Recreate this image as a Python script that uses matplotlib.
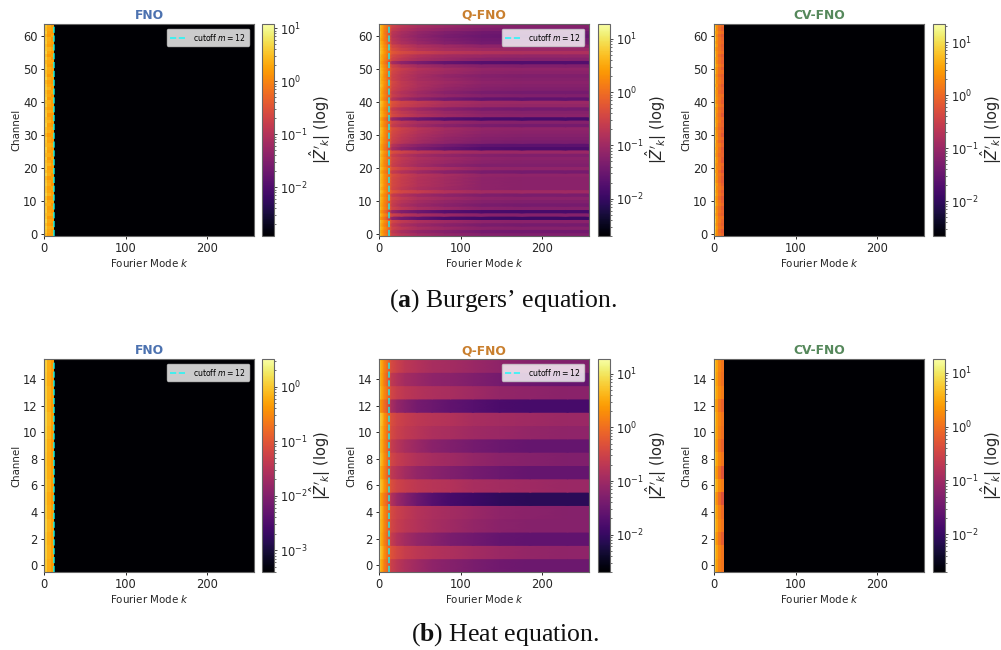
import numpy as np
import matplotlib
matplotlib.use('Agg')
import matplotlib.pyplot as plt
from matplotlib.colors import LogNorm

plt.rcParams['mathtext.fontset'] = 'dejavusans'

# all values are log10 |Z'_k|, first row = top channel
burgers_k = [0, 2, 5, 8, 12, 20, 35, 60, 100, 150, 200, 257]
heat_k = [0, 2, 5, 8, 12, 18, 26, 38, 55, 75, 100, 130, 165, 205, 257]
low_k = [0, 4, 8, 12, 257]
low_k_cv = [0, 2, 5, 8, 12, 257]
floor = -9

qfno_burgers = [
    [.80, .55, .25, .05, -.50, -.70, -.90, -1.05, -1.20, -1.25, -1.25],
    [.75, .50, .20, .00, -.60, -.80, -1.00, -1.15, -1.30, -1.35, -1.35],
    [.85, .50, .15, -.05, -.70, -.90, -1.10, -1.30, -1.45, -1.50, -1.50],
    [.80, .45, .20, -.05, -.75, -.95, -1.15, -1.35, -1.50, -1.55, -1.55],
    [.70, .40, .15, .00, -.70, -.90, -1.10, -1.30, -1.45, -1.50, -1.45],
    [.75, .50, .25, .00, -.65, -.85, -1.05, -1.25, -1.40, -1.45, -1.40],
    [.80, .55, .30, .10, -.45, -.65, -.85, -1.00, -1.15, -1.20, -1.20],
    [.85, .60, .35, .15, -.35, -.55, -.75, -.90, -1.00, -1.05, -1.05],
    [.90, .60, .40, .15, -.25, -.40, -.55, -.70, -.80, -.85, -.85],
    [.80, .50, .30, .10, -.40, -.60, -.80, -.95, -1.05, -1.10, -1.10],
    [.75, .50, .25, .05, -.50, -.70, -.90, -1.05, -1.20, -1.25, -1.25],
    [.70, .40, .15, -.10, -.90, -1.15, -1.35, -1.55, -1.70, -1.75, -1.75],
    [.80, .50, .25, .05, -.50, -.75, -.95, -1.10, -1.25, -1.30, -1.30],
    [.85, .55, .30, .10, -.40, -.60, -.80, -.95, -1.10, -1.15, -1.15],
    [.80, .60, .30, .10, -.45, -.65, -.85, -1.00, -1.15, -1.20, -1.20],
    [.75, .55, .25, .05, -.50, -.70, -.90, -1.10, -1.25, -1.30, -1.30],
    [.85, .50, .30, .05, -.50, -.70, -.90, -1.05, -1.20, -1.25, -1.25],
    [.80, .55, .35, .10, -.40, -.65, -.85, -1.00, -1.15, -1.20, -1.20],
    [.85, .60, .30, .10, -.45, -.65, -.85, -1.05, -1.20, -1.25, -1.25],
    [.75, .50, .25, .05, -.50, -.70, -.90, -1.10, -1.25, -1.30, -1.30],
    [.80, .45, .20, .00, -.60, -.80, -1.00, -1.20, -1.35, -1.40, -1.40],
    [.75, .50, .25, .05, -.55, -.75, -.95, -1.10, -1.25, -1.30, -1.30],
    [.70, .40, .15, -.05, -.75, -1.00, -1.20, -1.40, -1.55, -1.60, -1.60],
    [.90, .65, .40, .15, -.30, -.50, -.65, -.85, -1.00, -1.05, -1.05],
    [.85, .60, .35, .15, -.35, -.55, -.70, -.90, -1.05, -1.10, -1.10],
    [.75, .50, .25, .05, -.60, -.80, -1.00, -1.20, -1.35, -1.40, -1.40],
    [.80, .55, .30, .10, -.45, -.65, -.85, -1.05, -1.20, -1.25, -1.25],
    [.85, .55, .35, .10, -.40, -.60, -.80, -1.00, -1.15, -1.20, -1.20],
    [.65, .35, .10, -.15, -1.05, -1.30, -1.50, -1.70, -1.80, -1.85, -1.85],
    [.80, .50, .25, .05, -.50, -.70, -.90, -1.05, -1.20, -1.25, -1.25],
    [.75, .45, .20, .00, -.60, -.80, -1.00, -1.20, -1.35, -1.40, -1.40],
    [.85, .60, .35, .10, -.35, -.55, -.75, -.95, -1.10, -1.15, -1.15],
    [.85, .60, .30, .10, -.40, -.60, -.80, -1.00, -1.15, -1.20, -1.20],
    [.80, .55, .30, .05, -.45, -.65, -.85, -1.05, -1.20, -1.25, -1.25],
    [.75, .50, .25, .05, -.50, -.70, -.90, -1.10, -1.25, -1.30, -1.30],
    [.80, .50, .25, .05, -.55, -.75, -.95, -1.15, -1.30, -1.35, -1.35],
    [.70, .40, .15, -.05, -.75, -1.00, -1.20, -1.40, -1.60, -1.65, -1.65],
    [.65, .40, .10, -.10, -.90, -1.15, -1.35, -1.55, -1.75, -1.80, -1.80],
    [.90, .60, .35, .15, -.35, -.50, -.70, -.85, -1.00, -1.05, -1.05],
    [.80, .50, .25, .05, -.55, -.75, -.95, -1.10, -1.25, -1.30, -1.30],
    [.85, .55, .30, .10, -.45, -.65, -.85, -1.00, -1.15, -1.20, -1.20],
    [.80, .55, .25, .10, -.50, -.70, -.90, -1.05, -1.20, -1.25, -1.25],
    [.75, .50, .25, .05, -.55, -.75, -.95, -1.15, -1.30, -1.30, -1.30],
    [.85, .60, .35, .15, -.35, -.55, -.75, -.90, -1.10, -1.15, -1.15],
    [.75, .45, .20, .00, -.60, -.80, -1.00, -1.20, -1.35, -1.40, -1.40],
    [.85, .60, .30, .15, -.35, -.55, -.75, -.90, -1.10, -1.15, -1.15],
    [.85, .55, .30, .10, -.40, -.60, -.80, -.95, -1.15, -1.20, -1.20],
    [.80, .55, .30, .10, -.40, -.60, -.80, -.95, -1.15, -1.20, -1.20],
    [.85, .60, .30, .10, -.40, -.60, -.80, -.95, -1.15, -1.20, -1.20],
    [.80, .50, .25, .10, -.45, -.65, -.85, -1.00, -1.15, -1.20, -1.20],
    [.90, .65, .40, .15, -.25, -.45, -.60, -.80, -.95, -1.00, -1.00],
    [.75, .45, .25, .05, -.60, -.80, -1.00, -1.15, -1.30, -1.35, -1.35],
    [.80, .55, .30, .10, -.45, -.65, -.85, -1.00, -1.15, -1.20, -1.20],
    [.75, .50, .25, .05, -.55, -.75, -.95, -1.10, -1.25, -1.30, -1.30],
    [.70, .45, .20, .00, -.60, -.85, -1.05, -1.20, -1.35, -1.40, -1.40],
    [.80, .50, .25, .05, -.50, -.70, -.90, -1.05, -1.20, -1.25, -1.25],
    [.60, .30, .05, -.20, -1.05, -1.30, -1.50, -1.70, -1.80, -1.85, -1.85],
    [.80, .50, .25, .05, -.50, -.70, -.90, -1.05, -1.20, -1.25, -1.25],
    [.55, .25, .05, -.25, -1.15, -1.40, -1.60, -1.80, -1.90, -1.95, -1.95],
    [.85, .55, .30, .10, -.45, -.65, -.85, -1.00, -1.15, -1.20, -1.20],
    [.75, .45, .20, .00, -.60, -.85, -1.05, -1.20, -1.35, -1.40, -1.40],
    [.80, .55, .30, .10, -.50, -.70, -.90, -1.05, -1.20, -1.25, -1.25],
    [.70, .45, .20, .00, -.65, -.90, -1.10, -1.25, -1.40, -1.45, -1.45],
    [.80, .50, .25, .05, -.55, -.75, -.95, -1.10, -1.25, -1.30, -1.30],
]

qfno_heat = [
    [.75, .50, .20, .00, -.40, -.55, -.70, -.80, -.90, -.95, -1.05, -1.15, -1.25, -1.30],
    [.70, .45, .15, -.10, -.65, -.80, -.95, -1.05, -1.15, -1.20, -1.30, -1.40, -1.50, -1.55],
    [.80, .50, .25, .05, -.45, -.60, -.70, -.78, -.85, -.90, -1.00, -1.10, -1.15, -1.20],
    [.50, .25, .00, -.20, -.90, -1.10, -1.25, -1.40, -1.50, -1.60, -1.70, -1.80, -1.85, -1.85],
    [.90, .70, .35, .10, -.35, -.50, -.60, -.68, -.75, -.80, -.90, -.95, -1.00, -1.05],
    [.85, .60, .30, .05, -.40, -.55, -.65, -.75, -.85, -.90, -1.00, -1.05, -1.10, -1.15],
    [.75, .55, .25, .00, -.60, -.75, -.90, -1.05, -1.20, -1.30, -1.40, -1.50, -1.55, -1.55],
    [.85, .60, .30, .05, -.45, -.60, -.70, -.82, -.92, -1.00, -1.10, -1.20, -1.25, -1.30],
    [.70, .45, .20, -.05, -.65, -.80, -.95, -1.10, -1.20, -1.30, -1.40, -1.50, -1.55, -1.55],
    [.85, .65, .35, .10, -.35, -.50, -.60, -.68, -.75, -.80, -.90, -.95, -1.00, -1.05],
    [.60, .35, .10, -.10, -.80, -1.05, -1.25, -1.50, -1.70, -1.85, -1.95, -2.05, -2.10, -2.10],
    [.85, .60, .25, .05, -.40, -.55, -.65, -.78, -.88, -.95, -1.05, -1.15, -1.20, -1.25],
    [.75, .55, .25, .00, -.45, -.60, -.70, -.80, -.90, -1.00, -1.10, -1.20, -1.25, -1.25],
    [.75, .50, .20, -.05, -.60, -.80, -.95, -1.10, -1.22, -1.35, -1.45, -1.55, -1.60, -1.60],
    [.90, .65, .30, .05, -.30, -.45, -.60, -.70, -.78, -.85, -.95, -1.05, -1.10, -1.15],
    [.75, .50, .15, -.05, -.55, -.70, -.85, -1.00, -1.15, -1.25, -1.35, -1.45, -1.50, -1.50],
]

fno_burgers = [
    [.55, .35, .20], [.50, .30, .25], [.60, .25, .20], [.45, .20, .30], [.55, .35, .15], [.60, .30, .25],
    [.50, .25, .20], [.55, .40, .30], [.65, .30, .20], [.50, .20, .25], [.60, .35, .15], [.45, .30, .30],
    [.55, .25, .20], [.60, .35, .25], [.50, .30, .20], [.55, .20, .30], [.65, .35, .25], [.45, .25, .15],
    [.55, .30, .25], [.60, .40, .20], [.50, .25, .30], [.55, .30, .15], [.65, .20, .25], [.50, .35, .20],
    [.60, .30, .25], [.45, .25, .20], [.55, .35, .30], [.60, .20, .20], [.50, .30, .15], [.55, .40, .25],
    [.65, .25, .20], [.50, .30, .30], [.55, .35, .20], [.45, .20, .25], [.60, .30, .20], [.55, .25, .15],
    [.50, .35, .30], [.65, .30, .20], [.55, .25, .25], [.45, .35, .20], [.60, .20, .30], [.50, .30, .15],
    [.55, .40, .25], [.60, .25, .20], [.50, .30, .30], [.65, .35, .20], [.45, .20, .25], [.55, .30, .20],
    [.60, .35, .15], [.50, .25, .30], [.55, .30, .20], [.65, .40, .25], [.50, .20, .20], [.60, .30, .30],
    [.45, .35, .15], [.55, .25, .25], [.60, .30, .20], [.50, .35, .30], [.55, .20, .20], [.65, .30, .25],
    [.50, .25, .15], [.60, .35, .30], [.55, .30, .20], [.45, .25, .25],
]

cvfno_burgers = [
    [.70, .35, .10, .00], [.80, .30, .05, -.10], [.65, .40, .15, .05], [.75, .25, .00, -.15], [.85, .35, .10, -.05], [.70, .30, .10, .00],
    [.80, .40, .05, -.10], [.65, .25, .10, -.05], [.75, .35, .15, .05], [.85, .30, .00, -.15], [.70, .35, .10, -.05], [.75, .25, .05, -.10],
    [.80, .40, .15, .00], [.65, .30, .05, -.15], [.85, .35, .10, .05], [.70, .25, .00, -.10], [.75, .35, .10, -.05], [.80, .30, .15, .00],
    [.65, .40, .05, -.15], [.85, .25, .10, -.05], [.70, .35, .00, -.10], [.75, .30, .10, .05], [.80, .35, .15, -.05], [.70, .25, .05, -.15],
    [.85, .40, .10, .00], [.65, .30, .00, -.10], [.75, .35, .10, -.05], [.80, .25, .05, -.20], [.70, .30, .10, .00], [.75, .40, .15, -.10],
    [.85, .35, .05, -.05], [.65, .25, .00, -.15], [.80, .30, .10, -.05], [.75, .35, .05, -.20], [.70, .40, .10, .00], [.85, .25, .00, -.15],
    [.75, .30, .15, -.05], [.65, .35, .05, -.20], [.80, .30, .10, -.10], [.70, .25, .00, -.05], [.85, .35, .10, -.15], [.75, .40, .05, -.20],
    [.70, .30, .10, .00], [.80, .25, .15, -.10], [.65, .35, .00, -.25], [.85, .30, .10, -.05], [.75, .35, .05, -.15], [.70, .25, .00, -.20],
    [.80, .40, .10, -.10], [.90, .30, .15, .00], [.75, .35, .05, -.15], [.85, .40, .10, -.05], [.70, .30, .00, -.20], [.80, .35, .10, -.10],
    [.90, .40, .15, .00], [.75, .25, .05, -.15], [.85, .35, .10, -.05], [.70, .30, .00, -.10], [.80, .40, .10, .05], [.90, .35, .15, -.05],
    [.75, .30, .05, -.10], [.85, .40, .10, .00], [.80, .35, .00, -.15], [.70, .30, .10, -.05],
]

fno_heat = [
    [.05, -.20, -.35], [.02, -.22, -.38], [.05, -.18, -.34], [.08, -.20, -.36],
    [.12, -.12, -.32], [.10, -.16, -.35], [.05, -.20, -.38], [.02, -.22, -.36],
    [.04, -.20, -.34], [.06, -.18, -.36], [.02, -.24, -.38], [.05, -.20, -.34],
    [.08, -.16, -.32], [.04, -.20, -.36], [.06, -.18, -.34], [.03, -.22, -.36],
]

cvfno_heat = [
    [.70, .45, .20, .05], [.70, .40, .15, .00], [.75, .45, .25, .10], [.60, .35, .05, -.15],
    [.75, .40, .20, .05], [.70, .40, .15, .00], [.65, .35, .05, -.15], [.75, .45, .20, .05],
    [.60, .30, .00, -.30], [.80, .50, .25, .10], [.60, .25, -.05, -.35], [.70, .40, .15, -.05],
    [.75, .45, .20, .05], [.65, .30, .05, -.20], [.75, .45, .20, .05], [.70, .40, .15, .05],
]

titles = ['FNO', 'Q-FNO', 'CV-FNO']
title_colors = ['#4C72B0', '#C97F2E', '#55885B']
xticks = [0, 100, 200]
burgers_yticks = [0, 10, 20, 30, 40, 50, 60]
heat_yticks = [0, 2, 4, 6, 8, 10, 12, 14]
burgers_ranges = [(1.2e-3, 12), (2e-3, 19), (2.2e-3, 22)]
heat_ranges = [(4e-4, 3.2), (2e-3, 19), (2e-3, 18)]
caption_a = r"($\mathbf{a}$) Burgers’ equation."
caption_b = r"($\mathbf{b}$) Heat equation."

W, H = 1001, 650
text_col = '#262626'


def pix_axes(fig, x0, y0, x1, y1):
    return fig.add_axes([x0 / W, 1 - y1 / H, (x1 - x0) / W, (y1 - y0) / H])


def with_floor(rows):
    # everything past the retained modes is zero in the picture, so black
    return [list(r) + [floor] for r in rows]


def draw_flat(ax, k_edges, rows, nch, norm):
    z = 10.0 ** np.array(rows)[::-1]
    return ax.pcolormesh(k_edges, np.arange(nch + 1) - 0.5, z, cmap='inferno', norm=norm)


def draw_smooth(ax, k_edges, rows, nch, norm):
    # each channel is its own strip: sharp between channels, soft along k
    e = np.array(k_edges, dtype=float)
    x = np.concatenate([[e[0]], (e[:-1] + e[1:]) / 2, [e[-1]]])
    mesh = None
    for c, row in enumerate(rows[::-1]):
        v = 10.0 ** np.array([row[0]] + list(row) + [row[-1]])
        mesh = ax.pcolormesh(x, [c - 0.5, c + 0.5], np.vstack([v, v]), cmap='inferno',
                             norm=norm, shading='gouraud')
    return mesh


def panel(fig, box, cbox, k_edges, rows, nch, rng, yticks, title, color, cutoff, smooth):
    ax = pix_axes(fig, *box)
    cax = pix_axes(fig, *cbox)
    norm = LogNorm(vmin=rng[0], vmax=rng[1])
    if smooth:
        mesh = draw_smooth(ax, k_edges, rows, nch, norm)
    else:
        mesh = draw_flat(ax, k_edges, rows, nch, norm)
    ax.set_xlim(0, 257)
    ax.set_ylim(-0.5, nch - 0.5)
    ax.set_xticks(xticks)
    ax.set_yticks(yticks)
    ax.tick_params(labelsize=8.3, length=2.5, width=0.7, pad=2, colors=text_col)
    ax.set_xlabel('Fourier Mode $k$', fontsize=7.4, labelpad=1, color=text_col)
    ax.set_ylabel('Channel', fontsize=7.4, labelpad=1.5, color=text_col)
    ax.set_title(title, fontsize=8.8, fontweight='bold', color=color, pad=3.6)
    for s in ax.spines.values():
        s.set_color('#666666')
        s.set_linewidth(0.8)
    if cutoff:
        ax.axvline(12, color='cyan', ls='--', lw=1.2, alpha=0.8, label='cutoff $m=12$')
        ax.legend(loc='upper right', fontsize=5.6, framealpha=0.8, borderpad=0.4,
                  handlelength=2.2, borderaxespad=0.6, edgecolor='#cccccc')
    cb = fig.colorbar(mesh, cax=cax)
    cb.ax.tick_params(labelsize=8.3, length=2.5, width=0.6, pad=2, colors=text_col)
    cb.ax.tick_params(which='minor', length=1.5, width=0.4)
    cb.set_label(r"$|\hat{Z}'_k|$ (log)", fontsize=10.5, labelpad=-0.5, color=text_col)
    cb.outline.set_edgecolor('#666666')


fig = plt.figure(figsize=(W / 100, H / 100), dpi=100)

x_boxes = [(44, 254), (379, 589), (714, 924)]
c_boxes = [(262, 274), (598, 610), (933, 945)]
rows_top = [(low_k, with_floor(fno_burgers)), (burgers_k, qfno_burgers), (low_k_cv, with_floor(cvfno_burgers))]
rows_bot = [(low_k, with_floor(fno_heat)), (heat_k, qfno_heat), (low_k_cv, with_floor(cvfno_heat))]

for i in range(3):
    panel(fig, (x_boxes[i][0], 24, x_boxes[i][1], 236), (c_boxes[i][0], 24, c_boxes[i][1], 236),
          rows_top[i][0], rows_top[i][1], 64, burgers_ranges[i], burgers_yticks,
          titles[i], title_colors[i], i < 2, i == 1)
    panel(fig, (x_boxes[i][0], 359, x_boxes[i][1], 572), (c_boxes[i][0], 359, c_boxes[i][1], 572),
          rows_bot[i][0], rows_bot[i][1], 16, heat_ranges[i], heat_yticks,
          titles[i], title_colors[i], i < 2, i == 1)

plt.rcParams['mathtext.fontset'] = 'custom'
plt.rcParams['mathtext.bf'] = 'Liberation Serif:bold'
fig.text(503 / W, 1 - 301 / H, caption_a, ha='center', va='center', fontsize=18.5,
         family='Liberation Serif', color='#111111')
fig.text(505 / W, 1 - 635 / H, caption_b, ha='center', va='center', fontsize=18.5,
         family='Liberation Serif', color='#111111')

fig.savefig('out.png', dpi=100)
